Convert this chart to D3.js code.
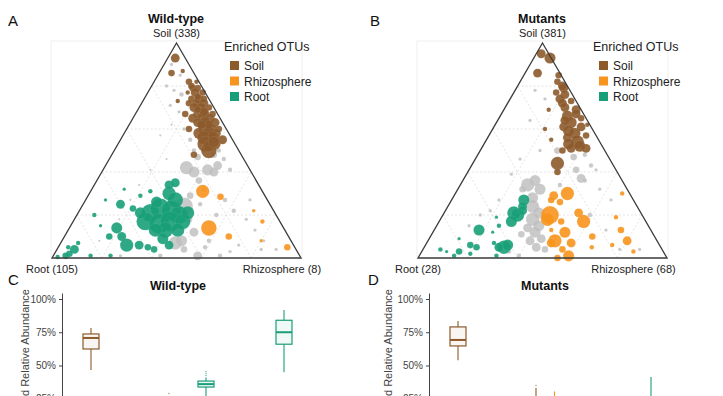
<!DOCTYPE html>
<html><head><meta charset="utf-8">
<script src="https://cdn.jsdelivr.net/npm/d3@7"></script>
<style>
body{margin:0;background:#fff;overflow:hidden}
text{font-family:"Liberation Sans",Arial,Helvetica,sans-serif}
</style>
</head><body>
<svg id="chart" width="723" height="396"></svg>
<script>
// ---------- DATA ----------
// ternary points: [soil %, rhizosphere %, root %, relative abundance]
const wtSoilOTUs = [
 [93,3,4,2.0],[86,5,9,1.1],[87,9,4,0.5],[73,14,13,0.5],[67,20,13,1.1],
 [82,14,4,1.1],[82,17,1,0.5],[79,17,4,1.1],[79,19,2,1.1],[77,16,7,0.5],
 [77,19,4,2.0],[77,22,1,1.1],[74,19,7,1.1],[74,22,4,2.0],[74,24,2,1.1],
 [72,19,9,1.1],[72,22,6,2.0],[72,25,3,2.0],[70,22,8,2.0],[70,25,5,2.0],
 [70,28,2,1.1],[67,25,8,2.0],[67,28,5,2.0],[67,31,2,1.1],[65,24,11,2.0],
 [65,28,7,3.1],[65,31,4,2.0],[63,27,10,2.0],[63,30,7,3.1],[63,34,3,2.0],
 [60,25,15,1.1],[60,31,9,3.1],[60,34,6,3.1],[60,37,3,1.1],[58,30,12,3.1],
 [58,34,8,4.4],[58,37,5,2.0],[56,33,11,4.4],[56,37,7,3.1],[53,35,12,6.0],
 [53,39,8,3.1],[50,38,12,6.0],[48,33,19,1.1],[55,41,4,2.0],[80,16,4,1.1],
 [75,21,4,1.1],[68,27,5,2.0],[62,32,6,2.0],[57,36,7,2.0],[52,37,11,3.1],
 [54,38,8,3.1],[62,29,9,2.0],[69,24,7,1.1]
];
const wtRhizoOTUs = [
 [31,45,24,4.4],[14,56,30,6.0],[10,66,24,1.1],[33,62,21,1.1],
 [17,76,7,0.5],[5,92,3,1.1],[22,70,8,0.3],[8,80,12,0.3]
];
const wtRootOTUs = [
 [21,29,50,7.9],[23,32,45,10],[22,37,41,10],[20,41,39,7.9],[17,29,54,7.9],
 [16,35,49,10],[17,39,44,10],[17,44,39,6.0],[13,39,48,6.0],[13,44,43,4.4],
 [13,35,52,4.4],[30,32,38,4.4],[34,30,36,2.0],[35,32,33,2.0],[26,29,45,3.1],
 [21,25,54,3.1],[25,15,60,2.0],[23,21,56,1.1],[14,19,67,3.1],[10,23,67,2.0],
 [6,27,67,4.4],[6,32,62,2.0],[10,18,72,1.1],[9,40,51,3.1],[6,44,50,2.0],
 [5,36,59,1.1],[4,39,57,1.1],[4,7,89,2.0],[2,6,92,1.1],[1,5,94,1.1],
 [7,7,86,0.5],[0.5,2,97.5,0.5],[1,15,84,0.5],[1,23,76,0.5],[20,7,73,0.5],
 [27,8,65,0.28],[32,13,55,0.28],[29,21,50,0.5],[31,24,45,0.5],[27,36,37,6.0],
 [21,44,35,4.4],[5,4,91,0.5],[15,12,73,0.28]
];
const wtOtherOTUs = [
 [90,3,7,0.28],[85,9,6,0.28],[80,6,14,0.28],[78,10,12,0.28],[76,14,10,0.5],
 [71,12,17,0.28],[68,17,15,0.28],[55,28,17,0.5],[60,23,17,0.28],[62,17,21,0.12],
 [57,15,28,0.12],[50,32,18,0.5],[47,35,18,1.1],[48,41,11,1.1],[50,42,8,0.5],
 [46,46,8,0.5],[43,45,12,2.0],[41,51,8,0.5],[42,33,25,4.4],[40,37,23,3.1],
 [41,42,17,3.1],[40,45,15,2.0],[36,41,23,1.1],[24,41,35,7.9],[7,46,47,4.4],
 [8,48,44,3.1],[1,58,41,2.0],[12,51,37,2.0],[18,46,36,1.1],[27,56,17,0.5],
 [22,62,16,0.5],[18,69,13,0.28],[13,75,12,0.28],[6,72,22,0.28],[4,82,14,0.28],
 [3,70,27,0.28],[41,19,40,0.12],[34,18,48,0.12],[27,18,55,0.12],[18,18,64,0.12],
 [8,15,77,0.12],[46,23,31,0.12],[8,59,33,0.5],[1,67,32,0.5],[5,59,36,0.5],
 [4,51,45,1.1],[1,43,56,0.5],[1,27,72,0.28],[29,41,30,1.1],[25,47,28,0.5],
 [20,56,24,0.5],[27,66,7,0.28],[8,81,11,0.28],[4,88,8,0.28],[32,45,23,0.77]
];

const mutSoilOTUs = [
 [95,2,3,2.0],[93,6.5,0.5,3.1],[86,5,9,2.0],[85,14,1,1.1],[82,15,3,1.1],
 [79,19,2,2.0],[77,17,6,1.1],[76,21,3,2.0],[74,20,6,2.0],[73,25,2,1.1],
 [70,24,6,2.0],[69,29,2,2.0],[66,27,7,3.1],[65,33,2,1.1],[63,30,7,3.1],
 [61,28,11,2.0],[61,35,4,2.0],[58,34,8,3.1],[56,32,12,2.0],[57,39,4,1.1],
 [54,37,9,4.4],[51,36,13,2.0],[51,42,7,2.0],[50,33,17,1.1],[44,34,22,4.4],
 [40,36,24,1.1],[69,18,13,0.5],[60,21,19,0.5],[55,26,19,0.5],[62,37,1,0.5],
 [80,18,2,2.0],[72,22,6,2.0],[67,30,3,2.0],[64,27,9,2.0],[59,31,10,3.1],
 [53,34,13,3.1],[52,39,9,3.1]
];
const mutRhizoOTUs = [
 [30,45,25,4.4],[29,40,31,2.0],[27,40,33,1.1],[26,44,30,1.1],[20,43,37,7.9],
 [18,43,39,4.4],[17,49,34,1.1],[21,54,25,2.0],[17,58,25,4.4],[12,53,35,3.1],
 [8,51,41,4.4],[7,58,35,2.0],[7,50,43,2.0],[4,56,40,1.1],[1,60,39,3.1],
 [0,56,44,1.1],[10,65,25,1.1],[13,75,12,1.1],[8,80,12,2.0],[3,85,12,0.5],
 [19,70,11,0.5],[30,67,3,0.5],[13,47,40,0.5],[5,68,28,0.5],[6,75,19,0.5]
];
const mutRootOTUs = [
 [27,29,44,3.1],[21,28,51,4.4],[20,30,50,4.4],[17,29,54,3.1],[22,31,47,2.0],
 [13,18,69,3.1],[5,32,63,4.4],[6,33,61,3.1],[5,30,65,2.0],[6,18,76,1.1],
 [5,21,74,1.1],[3,15,82,1.1],[1,14,85,0.5],[1,31,68,0.5],[7,27,66,0.5],
 [19,22,59,0.28],[12,24,64,0.28],[4,7,89,0.5],[24,30,46,2.0],[15,25,60,0.5],
 [2,20,78,0.5],[9,12,79,0.28],[3,10,87,0.28]
];
const mutOtherOTUs = [
 [34,27,39,4.4],[36,29,35,3.1],[32,33,35,3.1],[28,32,40,3.1],[24,34,42,4.4],
 [21,38,41,3.1],[18,37,45,4.4],[15,41,44,3.1],[12,41,47,3.1],[9,45,46,2.0],
 [8,41,51,2.0],[5,45,50,2.0],[4,49,47,1.1],[11,36,53,1.1],[14,37,49,2.0],
 [32,26,42,1.1],[50,31,19,1.1],[47,39,14,1.1],[48,43,9,0.5],[43,48,9,0.5],
 [37,47,16,2.0],[41,43,16,1.1],[87,5,8,0.28],[78,8,14,0.28],[74,14,12,0.28],
 [64,13,23,0.28],[50,24,26,0.28],[46,18,36,0.28],[39,18,43,0.28],[27,19,54,0.28],
 [22,18,60,0.28],[20,15,65,0.28],[15,13,72,0.28],[32,57,11,0.28],[27,64,9,0.28],
 [13,69,18,0.28],[20,59,21,0.5],[4,79,17,0.28],[4,87,9,0.28],[1,40,59,0.5],
 [3,35,62,0.5],[36,49,15,0.5],[41,51,8,0.28],[34,40,26,0.5]
];

// box plots: [compartment, enriched type, min, q1, median, q3, max] in %
const compartments = ["Soil","Rhizosphere","Root"];
const otuTypes = ["Soil","Rhizosphere","Root"];
const wtBoxes = [
 ["Soil","Soil",46.6,62.4,70.7,73.7,78.2],
 ["Soil","Rhizosphere",0,0.1,0.2,0.4,0.8],
 ["Soil","Root",1,3,5,8,14],
 ["Rhizosphere","Soil",4,10,15,20,27],
 ["Rhizosphere","Rhizosphere",0,0.2,0.4,0.7,1.2],
 ["Rhizosphere","Root",26,33.8,36,38.3,41],
 ["Root","Soil",1,3,5,8,14],
 ["Root","Rhizosphere",0,0.1,0.3,0.5,1],
 ["Root","Root",45,66,75,84,91.7]
];
const wtOutliers = [["Rhizosphere","Root",42.5],["Rhizosphere","Root",44],["Rhizosphere","Root",45.5],["Rhizosphere","Soil",29]];
const mutBoxes = [
 ["Soil","Soil",54,64.7,69.2,79,83.5],
 ["Soil","Rhizosphere",0,0.5,1,2,4],
 ["Soil","Root",0,0.3,0.6,1,2],
 ["Rhizosphere","Soil",5,12,18,24,33],
 ["Rhizosphere","Rhizosphere",3,10,15,22,30.5],
 ["Rhizosphere","Root",0,1,2,3,5],
 ["Root","Soil",1,3,5,8,12],
 ["Root","Rhizosphere",1,3,6,9,15],
 ["Root","Root",8,18,22,26,41.3]
];
const mutOutliers = [["Rhizosphere","Soil",35]];
const yTicks = [0.25,0.5,0.75,1];

// ---------- STYLE ----------
const colors = {Soil:"#8C5A2B", Rhizosphere:"#F7941D", Root:"#189E78", Other:"#BDBDBD"};
const font = '"Liberation Sans",Arial,sans-serif';
const svg = d3.select("#chart");
const rScale = d3.scaleSqrt().domain([0,10]).range([0,10]);

function drawTernary(cfg, layers){
  const g = svg.append("g");
  const x = d3.scaleLinear().domain([0,1]).range([cfg.left, cfg.right]);
  const y = d3.scaleLinear().domain([0,1]).range([cfg.bottom, cfg.top]);
  const pos = d => { const t=d[0]+d[1]+d[2]; const s=d[0]/t, r=d[1]/t; return [x(r+s/2), y(s)]; };
  g.append("rect").attr("x",cfg.left-1).attr("y",cfg.top-2).attr("width",cfg.right-cfg.left+2)
   .attr("height",cfg.bottom-cfg.top+2).attr("fill","none").attr("stroke","#ececec").attr("stroke-width",0.8);
  const gridVals=[0.2,0.4,0.6,0.8];
  const lines=[];
  gridVals.forEach(k=>{
    lines.push([[k,0,1-k],[k,1-k,0]]);
    lines.push([[0,k,1-k],[1-k,k,0]]);
    lines.push([[0,1-k,k],[1-k,0,k]]);
  });
  g.selectAll(".grid").data(lines).join("line")
   .attr("x1",d=>pos(d[0])[0]).attr("y1",d=>pos(d[0])[1])
   .attr("x2",d=>pos(d[1])[0]).attr("y2",d=>pos(d[1])[1])
   .attr("stroke","#d9d9d9").attr("stroke-width",0.7).attr("stroke-dasharray","2,2");
  layers.forEach(([data,cat])=>{
    g.append("g").selectAll("circle").data(data).join("circle")
     .attr("cx",d=>pos(d)[0]).attr("cy",d=>pos(d)[1]).attr("r",d=>Math.max(0.8,rScale(d[3])))
     .attr("fill",colors[cat]).attr("fill-opacity",cat==="Other"?0.8:0.9)
     .attr("stroke","#fff").attr("stroke-opacity",0.2).attr("stroke-width",0.4);
  });
  const verts=[[1,0,0],[0,1,0],[0,0,1]].map(pos);
  g.append("path").attr("d","M"+verts.map(v=>v.join(",")).join("L")+"Z")
   .attr("fill","none").attr("stroke","#3c3c3c").attr("stroke-width",1.3);
  g.append("text").attr("x",cfg.letterX).attr("y",26).text(cfg.letter).attr("font-size",15).attr("fill","#111");
  g.append("text").attr("x",cfg.titleX).attr("y",23).attr("text-anchor","middle").attr("font-weight","bold")
   .attr("font-size",12.5).attr("fill","#111").text(cfg.title);
  g.append("text").attr("x",verts[0][0]).attr("y",37).attr("text-anchor","middle").attr("font-size",11).attr("fill","#222").text(cfg.soilLab);
  g.append("text").attr("x",verts[2][0]).attr("y",273).attr("text-anchor","middle").attr("font-size",11).attr("fill","#222").text(cfg.rootLab);
  g.append("text").attr("x",cfg.rhizoX).attr("y",273).attr("text-anchor","middle").attr("font-size",11).attr("fill","#222").text(cfg.rhizoLab);
  const lg = svg.append("g").attr("transform",`translate(${cfg.legX},0)`);
  lg.append("text").attr("x",0).attr("y",51).attr("font-size",12.5).attr("fill","#222").text("Enriched OTUs");
  otuTypes.forEach((t,i)=>{
    lg.append("rect").attr("x",6).attr("y",61+i*15.5).attr("width",9).attr("height",9).attr("fill",colors[t]);
    lg.append("text").attr("x",20).attr("y",70+i*15.5).attr("font-size",12).attr("fill","#222").text(t);
  });
}

drawTernary({left:52,right:301,top:43,bottom:258,letter:"A",letterX:8,title:"Wild-type",titleX:176,
  soilLab:"Soil (338)",rootLab:"Root (105)",rhizoLab:"Rhizosphere (8)",rhizoX:282,legX:224},
  [[wtOtherOTUs,"Other"],[wtSoilOTUs,"Soil"],[wtRhizoOTUs,"Rhizosphere"],[wtRootOTUs,"Root"]]);
drawTernary({left:418,right:667,top:43,bottom:258,letter:"B",letterX:370,title:"Mutants",titleX:542,
  soilLab:"Soil (381)",rootLab:"Root (28)",rhizoLab:"Rhizosphere (68)",rhizoX:633.5,legX:593},
  [[mutOtherOTUs,"Other"],[mutSoilOTUs,"Soil"],[mutRhizoOTUs,"Rhizosphere"],[mutRootOTUs,"Root"]]);

function drawBoxes(cfg, boxes, outliers){
  const g = svg.append("g");
  const y = d3.scaleLinear().domain([0,1.045]).range([432,293]);
  const outer = d3.scaleBand().domain(compartments).range([cfg.x0, cfg.x0+234]);
  const inner = d3.scalePoint().domain(otuTypes).range([-18.5,18.5]);
  const cx = (c,t)=> outer(c)+outer.bandwidth()/2+inner(t);
  const bw = 16;
  boxes.forEach(b=>{
    const [c,t,mn,q1,md,q3,mx]=b; const xc=cx(c,t); const col=colors[t];
    g.append("line").attr("x1",xc).attr("x2",xc).attr("y1",y(mx/100)).attr("y2",y(q3/100)).attr("stroke",col).attr("stroke-width",1.1);
    g.append("line").attr("x1",xc).attr("x2",xc).attr("y1",y(q1/100)).attr("y2",y(mn/100)).attr("stroke",col).attr("stroke-width",1.1);
    g.append("rect").attr("x",xc-bw/2).attr("width",bw).attr("y",y(q3/100)).attr("height",Math.max(1,y(q1/100)-y(q3/100)))
     .attr("fill",col).attr("fill-opacity",0.06).attr("stroke",col).attr("stroke-width",1.2);
    g.append("line").attr("x1",xc-bw/2).attr("x2",xc+bw/2).attr("y1",y(md/100)).attr("y2",y(md/100)).attr("stroke",col).attr("stroke-width",2);
  });
  outliers.forEach(o=>{
    g.append("circle").attr("cx",cx(o[0],o[1])).attr("cy",y(o[2]/100)).attr("r",0.8).attr("fill",colors[o[1]]).attr("fill-opacity",0.6);
  });
  const ax = g.append("g").attr("transform",`translate(${cfg.axisX},0)`)
   .call(d3.axisLeft(y).tickValues(yTicks).tickFormat(d3.format(".0%")).tickSize(3).tickSizeOuter(0));
  ax.select(".domain").attr("stroke","#444");
  ax.selectAll(".tick line").attr("stroke","#444");
  ax.selectAll("text").attr("font-size",10).attr("fill","#444").attr("font-family",font);
  g.append("text").attr("transform",`translate(${cfg.labX},289) rotate(-90)`).attr("text-anchor","end")
   .attr("font-size",11).attr("fill","#444").text("Aggregated Relative Abundance");
  g.append("text").attr("x",cfg.letterX).attr("y",285).attr("font-size",15).attr("fill","#111").text(cfg.letter);
  g.append("text").attr("x",cfg.titleX).attr("y",290).attr("text-anchor","middle").attr("font-weight","bold")
   .attr("font-size",12.5).attr("fill","#111").text(cfg.title);
}
drawBoxes({x0:70.5,axisX:62,labX:29,letter:"C",letterX:8,title:"Wild-type",titleX:178}, wtBoxes, wtOutliers);
drawBoxes({x0:437.5,axisX:429,labX:392,letter:"D",letterX:368,title:"Mutants",titleX:545}, mutBoxes, mutOutliers);
</script>
</body></html>
